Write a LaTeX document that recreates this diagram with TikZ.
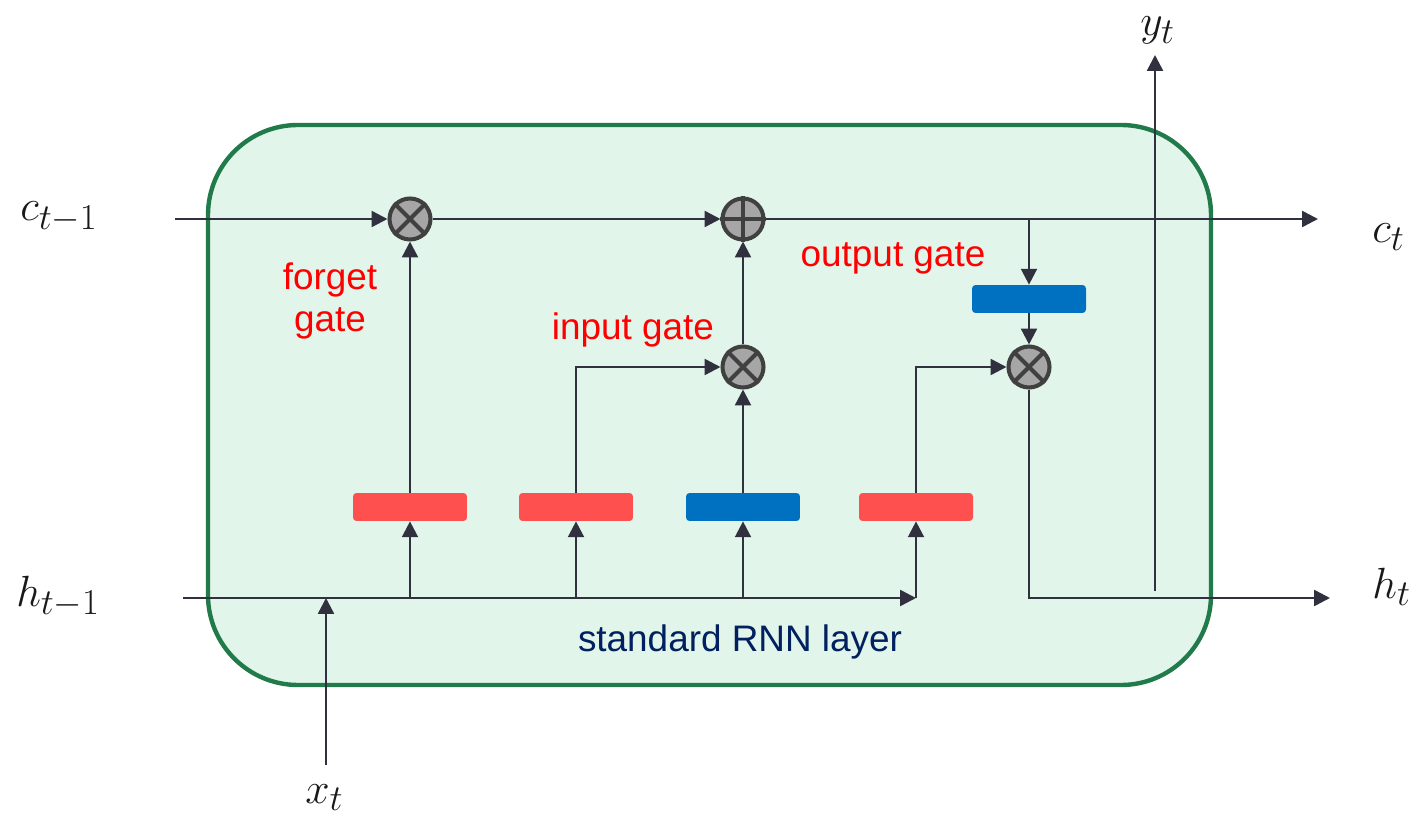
\documentclass[tikz,border=0pt]{standalone}
\usepackage{fontspec}
\setsansfont{Liberation Sans}
\usetikzlibrary{arrows.meta}
\definecolor{boxfill}{HTML}{E2F5EA}
\definecolor{boxline}{HTML}{217A4A}
\definecolor{connc}{HTML}{30303F}
\definecolor{gred}{HTML}{FF5050}
\definecolor{gblue}{HTML}{0070C0}
\definecolor{opfill}{HTML}{A6A6A6}
\definecolor{opline}{HTML}{404040}
\definecolor{lblred}{HTML}{FF0000}
\definecolor{lblblue}{HTML}{002060}
\begin{document}
\begin{tikzpicture}[x=0.02cm,y=-0.02cm,
 connline/.style={draw=connc, line width=1.4pt},
 arr/.style={connline, -{Triangle[length=9pt,width=9pt]}},
 op/.style={circle, fill=opfill, draw=opline, line width=2.3pt, minimum size=0.82cm, inner sep=0pt},
 opx/.style={draw=opline, line width=2.3pt},
 layerbox/.style={rectangle, rounded corners=2pt, minimum width=2.28cm, minimum height=0.56cm, inner sep=0pt},
 sig/.style={layerbox, fill=gred},
 tanhbox/.style={layerbox, fill=gblue},
 mathlbl/.style={font=\fontsize{29}{32}\selectfont, text=black!90, inner sep=0pt, anchor=base west},
 gatelbl/.style={font=\sffamily\fontsize{21}{24}\selectfont, text=lblred, align=center, inner sep=0pt},
 cell/.style={draw=boxline, fill=boxfill, line width=2.5pt, rounded corners=1.8cm},
]
\useasboundingbox (0,0) rectangle (1420,817);

% cell
\draw[cell] (208,125) rectangle (1211,685);

% operators
\node[op] (m1) at (410,219) {};
\node[op] (pl) at (743,219) {};
\node[op] (m2) at (743,367) {};
\node[op] (m3) at (1029,367) {};

% layers
\node[sig] (r1) at (410,507) {};
\node[sig] (r2) at (576,507) {};
\node[tanhbox] (bb) at (743,507) {};
\node[sig] (r3) at (916,507) {};
\node[tanhbox] (bo) at (1029,299) {};

% coordinates
\coordinate (cin) at (175,219);
\coordinate (cout) at (1318,219);
\coordinate (ogin) at (1029,219);
\coordinate (hin) at (183,598);
\coordinate (hc) at (916,598);
\coordinate (hout) at (1330,598);
\coordinate (xbot) at (326,765);
\coordinate (xtop) at (326,598);
\coordinate (ybot) at (1155,591);
\coordinate (ytop) at (1155,55);

% connectors
\draw[arr] (cin) -- (m1);
\draw[arr] (m1) -- (pl);
\draw[arr] (pl) -- (cout);
\draw[arr] (ogin) -- (bo);
\draw[arr] (bo) -- (m3);
\draw[arr] (m2) -- (pl);
\draw[arr] (bb) -- (m2);
\draw[arr] (r2.north) |- (m2);
\draw[arr] (r3.north) |- (m3);
\draw[arr] (r1) -- (m1);
\draw[arr] (hin) -- (hc);
\draw[arr] (hc) -- (r3);
\draw[arr] (r1.south |- hin) -- (r1);
\draw[arr] (r2.south |- hin) -- (r2);
\draw[arr] (bb.south |- hin) -- (bb);
\draw[arr] (xbot) -- (xtop);
\draw[arr] (m3) |- (hout);
\draw[arr] (ybot) -- (ytop);

% operator symbols
\draw[opx] (m1.45) -- (m1.225) (m1.135) -- (m1.-45);
\draw[opx] (m2.45) -- (m2.225) (m2.135) -- (m2.-45);
\draw[opx] (m3.45) -- (m3.225) (m3.135) -- (m3.-45);
\draw[opx] (pl.north) -- (pl.south) (pl.east) -- (pl.west);

% math labels
\node[mathlbl] (lc0) at (20,221) {$c_{t-1}$};
\node[mathlbl] (lh0) at (16,606) {$h_{t-1}$};
\node[mathlbl] (lc1) at (1372,243) {$c_t$};
\node[mathlbl] (lh1) at (1372,598) {$h_t$};
\node[mathlbl] (ly) at (1140,36) {$y_t$};
\node[mathlbl] (lx) at (305,803) {$x_t$};

% text labels
\node[gatelbl] (lf) at (330,301) {forget\\gate};
\node[gatelbl] (li) at (633,330) {input gate};
\node[gatelbl] (lo) at (893,258) {output gate};
\node[gatelbl, text=lblblue] (ls) at (740,642) {standard RNN layer};
\end{tikzpicture}
\end{document}
